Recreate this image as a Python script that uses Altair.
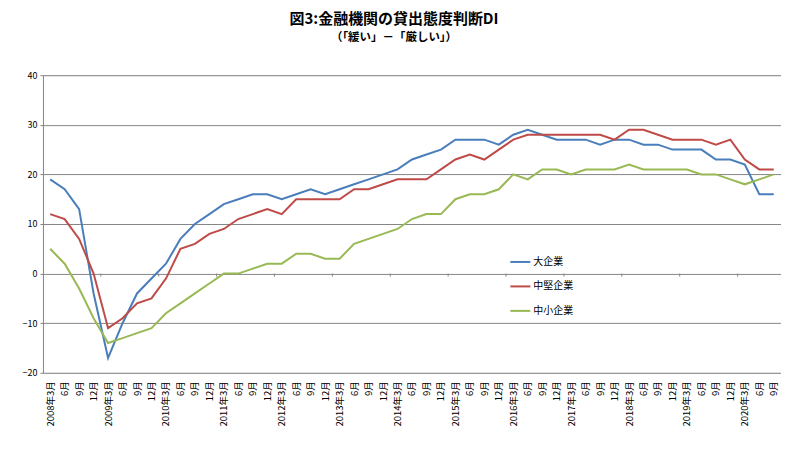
import json
import altair as alt
import pandas as pd

periods = [
    "2008年3月", "6月", "9月", "12月",
    "2009年3月", "6月", "9月", "12月",
    "2010年3月", "6月", "9月", "12月",
    "2011年3月", "6月", "9月", "12月",
    "2012年3月", "6月", "9月", "12月",
    "2013年3月", "6月", "9月", "12月",
    "2014年3月", "6月", "9月", "12月",
    "2015年3月", "6月", "9月", "12月",
    "2016年3月", "6月", "9月", "12月",
    "2017年3月", "6月", "9月", "12月",
    "2018年3月", "6月", "9月", "12月",
    "2019年3月", "6月", "9月", "12月",
    "2020年3月", "6月", "9月",
]

large = [19, 17, 13, -4, -17, -10, -4, -1, 2, 7,
         10, 12, 14, 15, 16, 16, 15, 16, 17, 16,
         17, 18, 19, 20, 21, 23, 24, 25, 27, 27,
         27, 26, 28, 29, 28, 27, 27, 27, 26, 27,
         27, 26, 26, 25, 25, 25, 23, 23, 22, 16,
         16]
medium = [12, 11, 7, 0, -11, -9, -6, -5, -1, 5,
          6, 8, 9, 11, 12, 13, 12, 15, 15, 15,
          15, 17, 17, 18, 19, 19, 19, 21, 23, 24,
          23, 25, 27, 28, 28, 28, 28, 28, 28, 27,
          29, 29, 28, 27, 27, 27, 26, 27, 23, 21,
          21]
small = [5, 2, -3, -9, -14, -13, -12, -11, -8, -6,
         -4, -2, 0, 0, 1, 2, 2, 4, 4, 3,
         3, 6, 7, 8, 9, 11, 12, 12, 15, 16,
         16, 17, 20, 19, 21, 21, 20, 21, 21, 21,
         22, 21, 21, 21, 21, 20, 20, 19, 18, 19,
         20]

series_names = ["大企業", "中堅企業", "中小企業"]
series_colors = ["#4A7EBB", "#BE4B48", "#98B954"]
y_ticks = [-20, -10, 0, 10, 20, 30, 40]
year_starts = [4, 8, 12, 16, 20, 24, 28, 32, 36, 40, 44, 48]

rows = []
for name, vals in zip(series_names, [large, medium, small]):
    for i, v in enumerate(vals):
        rows.append({"idx": i, "period": periods[i], "series": name, "value": v})
df = pd.DataFrame(rows)

FONT = "Noto Sans CJK JP"
label_expr = json.dumps(periods, ensure_ascii=False) + "[datum.value]"

W = 739
STEP = W / len(periods)

x_scale = alt.Scale(type="point", domain=list(range(len(periods))), padding=0.5)
y_scale = alt.Scale(domain=[-20, 40], nice=False)

lines = alt.Chart(df).mark_line(strokeWidth=2).encode(
    x=alt.X("idx:O", scale=x_scale,
            axis=alt.Axis(title=None, labelExpr=label_expr,
                          labelAngle=-90, labelFontSize=9.5, labelFont=FONT, labelColor="#000000",
                          labelPadding=8, ticks=False, domain=False, grid=False,
                          labelOverlap=False)),
    y=alt.Y("value:Q", scale=y_scale,
            axis=alt.Axis(title=None, values=y_ticks, grid=True, gridColor="#868686",
                          gridWidth=1, domainColor="#868686", tickColor="#868686", tickSize=3,
                          labelFontSize=9, labelFont=FONT, labelColor="#000000", labelPadding=3)),
    color=alt.Color("series:N", sort=series_names,
                    scale=alt.Scale(domain=series_names, range=series_colors),
                    legend=alt.Legend(title=None, orient="none", legendX=467, legendY=176,
                                      symbolType="stroke", symbolSize=400, symbolStrokeWidth=2,
                                      labelFontSize=10, labelFont=FONT, labelColor="#000000",
                                      labelOffset=2, rowPadding=8.5, padding=0)),
    detail="series:N",
)

tick_df = pd.DataFrame({"b": year_starts})
ticks = alt.Chart(tick_df).mark_rule(color="#868686", strokeWidth=1, xOffset=-STEP / 2).encode(
    x=alt.X("b:O", scale=x_scale),
    y=alt.datum(0, scale=y_scale),
    y2=alt.datum(-0.6),
)

chart = alt.layer(ticks, lines).properties(
    width=W,
    height=298,
    autosize=alt.AutoSizeParams(type="none"),
    padding={"left": 35, "top": 67, "right": 0, "bottom": 69},
    title=alt.TitleParams(
        "図3:金融機関の貸出態度判断DI",
        subtitle="（「緩い」－「厳しい」）",
        anchor="middle", dx=-18, offset=28,
        font=FONT, fontSize=15, fontWeight="bold", color="#000000",
        subtitleFont=FONT, subtitleFontSize=11.5, subtitleFontWeight="bold",
        subtitleColor="#000000", subtitlePadding=5,
    ),
).configure_view(stroke=None).configure(background="white")

chart.save("out.html", embed_options={"renderer": "svg", "actions": False})
